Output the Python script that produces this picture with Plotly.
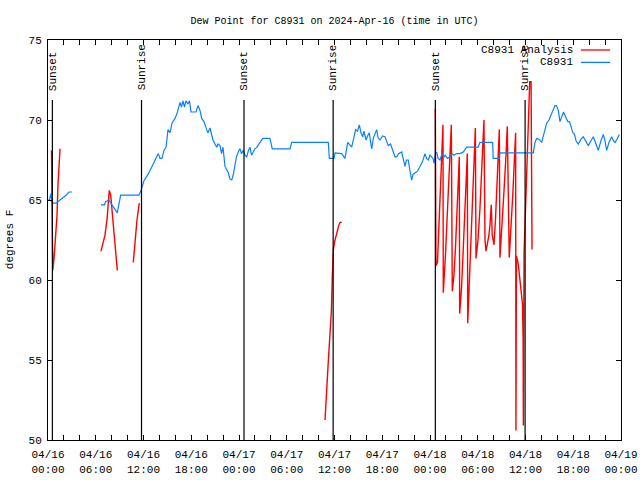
import pandas as pd
import plotly.graph_objects as go

BASE = pd.Timestamp("2024-04-16 00:00")

# ---- C8931 observations (hours after 2024-04-16 00:00 UTC, dew point F) ----
obs_hours = [0.0, 0.19, 0.31, 0.38, 0.46, 0.54, 1.0, 1.26, 1.76, 2.26, 2.64, 3.02,
             4.8,
             6.66, 7.10, 7.22, 7.66, 8.04, 8.42, 8.71, 8.86, 9.13, 11.43, 11.69, 12.06,
             12.56, 13.07, 13.57, 13.86, 14.07, 14.32, 14.58, 14.83, 15.08, 15.33, 15.58,
             15.96, 16.21, 16.59, 16.77, 16.96, 17.15, 17.34, 17.59, 17.78, 17.97, 18.60,
             18.85, 19.1, 19.31, 19.6, 19.94, 20.1, 20.36, 20.54, 20.73, 20.98, 21.2,
             21.36, 21.61, 21.8, 21.99, 22.24, 22.49, 22.65, 22.87, 23.08, 23.25, 23.5,
             23.68, 23.91, 24.12, 24.31, 24.54, 24.75, 24.97, 25.19, 25.38, 25.57, 25.76,
             26.01, 26.26, 26.64, 26.98, 27.89, 28.18, 30.41, 30.62, 35.22, 35.35, 35.94,
             36.06, 36.9, 37.32, 37.66, 37.95, 38.16, 38.39, 38.66, 38.89, 39.12, 39.33,
             39.54, 39.7, 39.96, 40.15, 40.37, 40.67, 40.9, 41.3, 41.47, 41.72, 42.03,
             42.34, 42.53, 42.76, 43.04, 43.39, 43.6, 43.81, 44.04, 44.44, 44.6, 44.86,
             45.04, 45.27, 45.49, 45.7, 45.86, 46.11, 46.43, 46.74, 47.06, 47.37, 47.56,
             47.79, 48.0, 48.21, 48.38, 48.5, 48.69, 48.84, 49.01, 49.26, 49.51, 49.76,
             49.89, 50.2, 50.51, 50.76, 51.01, 51.35, 51.76, 52.18, 52.6, 54.06, 54.27,
             55.87, 55.94, 56.7, 56.79, 60.98, 61.19, 61.4, 61.69, 62.03, 62.32, 62.66,
             62.95, 63.29, 63.51, 63.7, 63.89, 64.12, 64.33, 64.58, 64.78, 65.03, 65.32,
             65.54, 65.72, 65.95, 66.16, 66.35, 66.63, 66.97, 67.26, 67.6, 67.89, 68.23,
             68.52, 68.86, 69.14, 69.48, 69.77, 69.99, 70.2, 70.49, 70.83, 71.06, 71.25,
             71.5, 71.79]
obs_values = [65.0, 65.0, 65.3, 65.4, 64.9, 64.8, 64.8, 64.9, 65.1, 65.3, 65.5, 65.5,
              None,
              64.7, 64.7, 64.9, 65.0, 64.7, 64.4, 64.2, 64.6, 65.3, 65.3, 65.6, 66.2,
              66.6, 67.1, 67.6, 67.9, 67.6, 67.6, 68.1, 68.3, 69.4, 69.2, 69.8,
              70.1, 70.4, 71.1, 70.8, 71.2, 70.8, 71.2, 71.0, 71.2, 70.5, 70.5,
              70.9, 70.6, 70.1, 69.9, 69.4, 69.2, 69.5, 69.2, 68.75, 68.5, 68.3,
              68.5, 68.4, 67.9, 68.3, 67.1, 66.9, 66.7, 66.3, 66.25, 66.5, 67.3,
              67.7, 68.0, 68.2, 67.9, 68.1, 67.8, 67.7, 68.1, 68.3, 67.8, 68.0,
              68.2, 68.3, 68.6, 68.85, 68.85, 68.2, 68.2, 68.6, 68.6, 67.6, 67.6,
              67.95, 67.9, 67.6, 68.6, 68.4, 68.3, 68.8, 69.4, 69.3, 69.7, 69.2,
              68.95, 69.3, 68.75, 69.0, 69.2, 68.2, 68.9, 69.4, 68.9, 68.75, 69.0,
              68.95, 68.7, 68.4, 68.5, 68.0, 67.7, 67.7, 67.9, 68.0, 67.6, 67.1,
              67.5, 67.5, 66.8, 66.25, 66.6, 66.7, 66.8, 67.1, 67.4, 67.9, 67.6,
              67.5, 67.8, 67.7, 67.6, 67.3, 67.9, 68.0, 67.6, 67.5, 67.9, 67.7,
              67.8, 67.6, 67.7, 67.9, 67.8, 67.9, 67.9, 68.0, 68.3, 68.3, 68.6,
              68.6, 67.6, 67.6, 67.95, 67.95, 68.6, 68.85, 68.8, 68.6, 69.2, 69.8,
              70.0, 70.4, 70.6, 70.9, 70.9, 70.6, 69.9, 70.3, 70.5, 70.2, 69.9,
              69.9, 69.5, 69.2, 69.1, 68.7, 68.5, 68.8, 68.95, 68.6, 68.4, 68.7,
              68.95, 68.5, 68.1, 68.7, 69.1, 68.7, 68.1, 68.6, 68.95, 68.7, 68.6,
              68.8, 69.1]

# ---- C8931 Analysis ----
ana_hours = [0.44, 0.60, 0.75, 0.94, 1.13, 1.26, 1.38, 1.51,
             4.0,
             6.66, 6.91, 7.16, 7.41, 7.6, 7.7, 7.88, 8.04, 8.29, 8.54, 8.71,
             9.7,
             10.72, 10.93, 11.18, 11.47,
             20.0,
             34.81, 34.93, 35.10, 35.22, 35.35, 35.47, 35.60, 35.72, 35.85, 36.02,
             36.19, 36.35, 36.53, 36.69, 36.90,
             42.0,
             48.67, 48.75, 48.94, 49.09, 49.17, 49.26, 49.38, 49.51, 49.63,
             49.67, 49.84, 49.97, 50.09, 50.22, 50.35, 50.47, 50.6, 50.68,
             50.8, 51.01, 51.2, 51.39, 51.51, 51.68,
             51.73, 51.96, 52.14, 52.33, 52.52, 52.69,
             52.74, 52.9, 53.09, 53.28, 53.47, 53.7,
             53.78, 54.03, 54.28, 54.53, 54.78,
             54.91, 55.03, 55.22, 55.41, 55.54, 55.7, 55.82, 56.04, 56.23, 56.42,
             56.58, 56.71,
             56.79, 57.04, 57.29, 57.55, 57.71,
             57.96, 58.17, 58.42, 58.61, 58.76,
             58.8, 58.86, 59.09, 59.28, 59.5, 59.62, 59.7, 59.73,
             59.82, 60.03, 60.19, 60.41, 60.53, 60.7, 60.76, 60.82]
ana_values = [68.1, 60.6, 61.3, 62.5, 64.0, 66.0, 67.5, 68.2,
              None,
              61.8, 62.3, 62.8, 63.75, 65.0, 65.6, 65.3, 64.4, 62.8, 61.6, 60.6,
              None,
              61.1, 62.5, 63.75, 64.8,
              None,
              51.25, 52.7, 53.85, 54.9, 55.9, 56.98, 58.0, 60.1, 61.9, 62.4,
              62.8, 63.1, 63.4, 63.6, 63.6,
              None,
              70.7, 60.9, 61.1, 63.0, 64.5, 65.8, 67.2, 68.9, 69.7,
              59.2, 60.4, 61.8, 63.2, 64.7, 66.1, 67.4, 68.9, 69.7,
              59.3, 60.3, 62.0, 64.0, 66.0, 67.7,
              57.9, 59.5, 61.5, 63.8, 66.0, 67.9,
              57.3, 59.5, 61.8, 64.5, 66.8, 69.5,
              61.35, 62.5, 64.5, 67.0, 70.0,
              62.5, 61.8, 62.3, 62.8, 63.5, 64.7, 62.8, 62.2, 63.8, 66.0,
              68.0, 69.4,
              61.4, 63.2, 65.5, 67.8, 69.6,
              61.4, 63.0, 65.5, 67.6, 69.2,
              50.6, 61.5, 61.0, 60.0, 59.0, 58.5, 56.3, 50.9,
              61.7, 64.8, 67.1, 71.2, 72.4, 72.4, 67.1, 61.9]

# ---- Sun events ----
sun_hours = [0.55, 11.75, 24.63, 35.83, 48.67, 59.95]
sun_labels = ["Sunset", "Sunrise", "Sunset", "Sunrise", "Sunset", "Sunrise"]

# ---- Axis ticks ----
tick_hours = [0, 6, 12, 18, 24, 30, 36, 42, 48, 54, 60, 66, 72]
tick_text = ["04/16<br>00:00", "04/16<br>06:00", "04/16<br>12:00", "04/16<br>18:00",
             "04/17<br>00:00", "04/17<br>06:00", "04/17<br>12:00", "04/17<br>18:00",
             "04/18<br>00:00", "04/18<br>06:00", "04/18<br>12:00", "04/18<br>18:00",
             "04/19<br>00:00"]
y_ticks = [50, 55, 60, 65, 70, 75]


def to_time(hours):
    return [BASE + pd.Timedelta(hours=h) for h in hours]


FONT = "Liberation Mono, DejaVu Sans Mono, monospace"
FS = 10
RED = "#ff0000"
BLUE = "#0a80ff"

fig = go.Figure()
fig.add_trace(go.Scatter(x=to_time(ana_hours), y=ana_values, mode="lines",
                         name="C8931 Analysis", line=dict(color=RED, width=1.4),
                         showlegend=False))
fig.add_trace(go.Scatter(x=to_time(obs_hours), y=obs_values, mode="lines",
                         name="C8931", line=dict(color=BLUE, width=1.2),
                         showlegend=False))

for h, lab in zip(sun_hours, sun_labels):
    t = BASE + pd.Timedelta(hours=h)
    fig.add_shape(type="line", xref="x", yref="y", x0=t, x1=t, y0=50, y1=71.25,
                  line=dict(color="black", width=1.2), layer="above")
    fig.add_annotation(x=t, y=71.7, xref="x", yref="y", text=lab, textangle=-90,
                       showarrow=False, xanchor="center", yanchor="bottom",
                       font=dict(family=FONT, size=FS + 1, color="black"))

# manual gnuplot-style legend (text right-aligned, sample to the right)
legend_items = [("C8931 Analysis", RED, 0.975), ("C8931", BLUE, 0.944)]
for name, col, yp in legend_items:
    fig.add_annotation(x=0.92, y=yp, xref="paper", yref="paper", text=name,
                       showarrow=False, xanchor="right", yanchor="middle",
                       font=dict(family=FONT, size=FS + 1, color="black"))
    fig.add_shape(type="line", xref="paper", yref="paper", x0=0.930, x1=0.981,
                  y0=yp, y1=yp, line=dict(color=col, width=1.3))

fig.add_annotation(x=-0.066, y=0.5, xref="paper", yref="paper", text="degrees F",
                   textangle=-90, showarrow=False, xanchor="center", yanchor="middle",
                   font=dict(family=FONT, size=FS + 1, color="black"))

fig.update_layout(
    width=640, height=480,
    margin=dict(l=48, r=19, t=40, b=40, autoexpand=False),
    paper_bgcolor="white", plot_bgcolor="white",
    font=dict(family=FONT, size=FS, color="black"),
    title=dict(text="Dew Point for C8931 on 2024-Apr-16 (time in UTC)",
               x=0.5, xref="paper", xanchor="center",
               y=1 - 20 / 480, yref="container", yanchor="middle",
               font=dict(family=FONT, size=FS, color="black")),
)
fig.update_xaxes(
    range=[BASE, BASE + pd.Timedelta(hours=72)],
    tickmode="array", tickvals=to_time(tick_hours), ticktext=tick_text,
    ticks="inside", ticklen=5, tickwidth=1, tickcolor="black",
    ticklabelstandoff=4, ticklabeloverflow="allow",
    minor=dict(tick0=BASE, dtick=2 * 3600 * 1000, ticks="inside", ticklen=5,
               tickcolor="black", tickwidth=1, showgrid=False),
    showline=True, linecolor="black", linewidth=1, mirror="allticks",
    showgrid=False, zeroline=False,
    tickfont=dict(family=FONT, size=FS + 1, color="black"),
)
fig.update_yaxes(
    range=[50, 75], tickvals=y_ticks,
    ticks="inside", ticklen=5, tickwidth=1, tickcolor="black",
    ticklabelstandoff=3,
    showline=True, linecolor="black", linewidth=1, mirror="allticks",
    showgrid=False, zeroline=False,
    tickfont=dict(family=FONT, size=FS + 1, color="black"),
)

# the page's default 8px body margin would offset the 640x480 figure; remove it
fig.write_html(
    "out.html",
    config={"displayModeBar": False},
    post_script="document.body.style.margin='0';document.body.style.overflow='hidden';",
)
